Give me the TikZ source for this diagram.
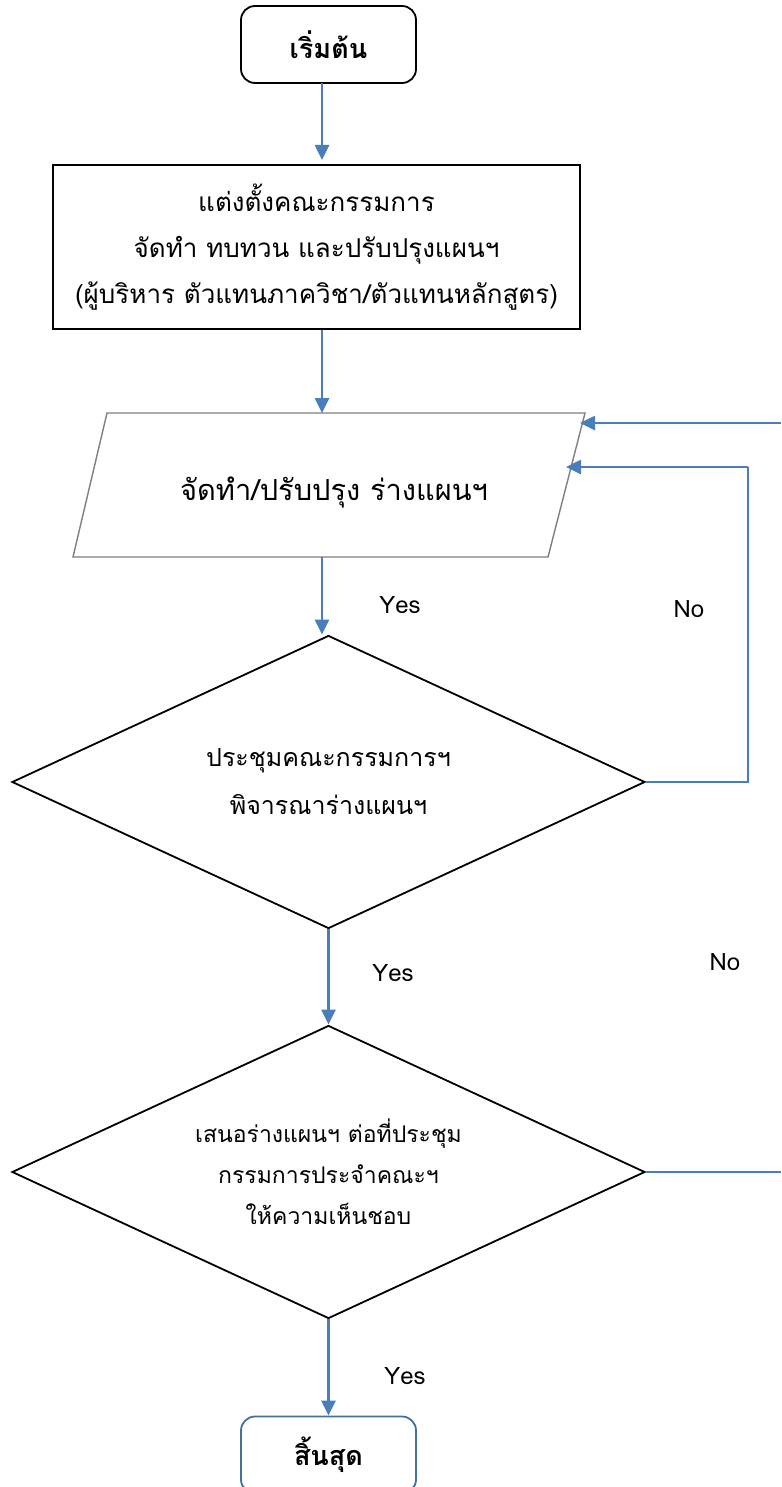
\documentclass[tikz,border=0pt]{standalone}
\usepackage{fontspec}
\newfontfamily\thaifont[Script=Thai]{Loma}
\setmainfont[Script=Thai]{Loma}
\usetikzlibrary{arrows.meta,shapes.geometric}
\definecolor{flowblue}{HTML}{4A7EBB}
\definecolor{endblue}{HTML}{41719C}
\definecolor{paragray}{HTML}{7F7F7F}
\tikzset{
  conn/.style={draw=flowblue,line width=2.6pt,-{Triangle[length=15pt,width=14pt]}},
  plainconn/.style={draw=flowblue,line width=2.6pt},
  termbox/.style={rounded corners=14pt,line width=1.8pt,minimum width=175pt,minimum height=77pt,font=\fontsize{27}{30}\selectfont\bfseries,inner sep=0pt},
  procbox/.style={draw=black,line width=2.6pt,minimum width=527pt,minimum height=164pt,align=center,font=\fontsize{26}{46}\selectfont,inner sep=0pt},
  decbox/.style={diamond,draw=black,line width=1.8pt,minimum width=633pt,minimum height=293pt,aspect=2.16,align=center,inner sep=0pt},
  lbl/.style={font=\fontsize{24}{28}\selectfont,inner sep=0pt}
}
\begin{document}
\begin{tikzpicture}[x=1pt,y=-1pt]
\clip (0,0) rectangle (781,1487);
\fill[white] (0,0) rectangle (781,1487);
% start
\node[termbox,draw=black] (start) at (328.5,44.5) {เริ่มต้น};
% process box
\node[procbox] (proc) at (316.5,247) {แต่งตั้งคณะกรรมการ\\จัดทำ ทบทวน และปรับปรุงแผนฯ\\(ผู้บริหาร ตัวแทนภาควิชา/ตัวแทนหลักสูตร)};
% parallelogram
\coordinate (pTL) at (107,413);
\coordinate (pTR) at (585,413);
\coordinate (pBR) at (548,557);
\coordinate (pBL) at (73,557);
\draw[paragray,line width=1.4pt] (pTL) -- (pTR) -- (pBR) -- (pBL) -- cycle;
\node[font=\fontsize{29}{32}\selectfont,inner sep=0pt] (para) at (334,492) {จัดทำ/ปรับปรุง ร่างแผนฯ};
\coordinate (pTop) at (322,413);
\coordinate (pBot) at (322,557);
\coordinate (pIn1) at (580,423);
\coordinate (pIn2) at (566,467);
% diamonds
\node[decbox,font=\fontsize{25}{48}\selectfont] (d1) at (328.5,782) {ประชุมคณะกรรมการฯ\\พิจารณาร่างแผนฯ};
\node[decbox,font=\fontsize{23}{41}\selectfont] (d2) at (328.5,1172) {เสนอร่างแผนฯ ต่อที่ประชุม\\กรรมการประจำคณะฯ\\ให้ความเห็นชอบ};
% end
\node[termbox,draw=endblue] (stop) at (328.5,1455) {สิ้นสุด};
% connectors
\draw[conn] (322,83) -- (322,160);
\draw[conn] (proc.south -| pTop) -- (pTop);
\draw[conn] (pBot) -- (pBot |- d1.north);
\draw[conn] (d1.south) -- (d2.north);
\draw[conn] (d2.south) -- (stop.north);
\coordinate (r1) at (748,782);
\coordinate (r2) at (748,467);
\draw[plainconn] (d1.east) -- (r1) -- (r2);
\draw[conn] (r2) -- (pIn2);
\coordinate (edgeTop) at (781,423);
\draw[conn] (edgeTop) -- (pIn1);
\coordinate (edgeBot) at (781,1172);
\draw[plainconn] (d2.east) -- (edgeBot);
% labels
\node[lbl] (y1) at (400,605) {Yes};
\node[lbl] (n1) at (689,609) {No};
\node[lbl] (y2) at (393,973) {Yes};
\node[lbl] (n2) at (725,962) {No};
\node[lbl] (y3) at (405,1376) {Yes};
\end{tikzpicture}
\end{document}
